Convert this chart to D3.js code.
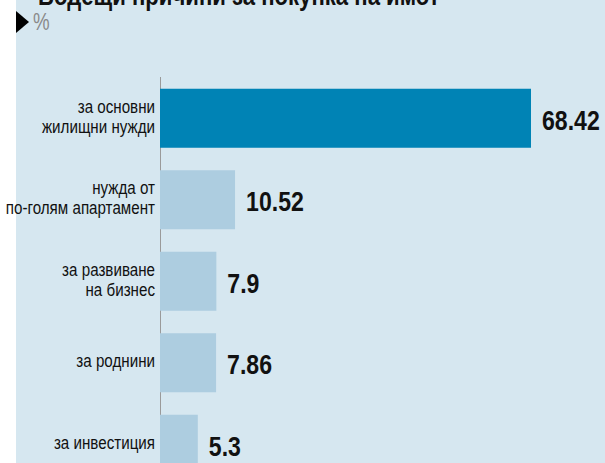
<!DOCTYPE html>
<html>
<head>
<meta charset="utf-8">
<script src="https://cdn.jsdelivr.net/npm/d3@7"></script>
<style>
  body { margin: 0; background: #fff; }
  svg { display: block; }
</style>
</head>
<body>
<script>
// data
const categories = [
  "за основни жилищни нужди",
  "нужда от по-голям апартамент",
  "за развиване на бизнес",
  "за роднини",
  "за инвестиция"
];
const labelLines = [
  ["за основни", "жилищни нужди"],
  ["нужда от", "по-голям апартамент"],
  ["за развиване", "на бизнес"],
  ["за роднини"],
  ["за инвестиция"]
];
const values = [68.42, 10.52, 7.9, 7.86, 5.3];

const width = 605, height = 463;
const font = "Liberation Sans, Arial, sans-serif";
const narrow = 0.82; // squeeze to look like a condensed face

const svg = d3.select("body").append("svg")
  .attr("width", width)
  .attr("height", height);

// panel
svg.append("rect")
  .attr("x", 16).attr("y", 0)
  .attr("width", width - 16).attr("height", height)
  .attr("fill", "#d6e7f0");

// title (cut off at top, as in the source)
svg.append("g")
  .attr("transform", `translate(38,5) scale(${narrow},1)`)
  .append("text")
  .attr("font-family", font)
  .attr("font-weight", "bold")
  .attr("font-size", 27)
  .attr("fill", "#111")
  .text("Водещи причини за покупка на имот");

// unit marker
svg.append("path")
  .attr("d", "M16,11 L29,22 L16,33 Z")
  .attr("fill", "#000");
svg.append("g")
  .attr("transform", `translate(33,30) scale(0.78,1)`)
  .append("text")
  .attr("font-family", font)
  .attr("font-size", 24)
  .attr("fill", "#8a8a8a")
  .text("%");

// scales - the big bar is cut short (clamped)
const x = d3.scaleLinear()
  .domain([0, 52])
  .range([160, 531])
  .clamp(true);

const y = d3.scaleBand()
  .domain(categories)
  .range([77.5, 485])
  .paddingInner(0.276)
  .paddingOuter(0.138);

// axis line
svg.append("line")
  .attr("x1", 160.5).attr("x2", 160.5)
  .attr("y1", 77).attr("y2", height)
  .attr("stroke", "#9a9a9a")
  .attr("stroke-width", 1);

const rows = svg.selectAll(".row")
  .data(categories.map((c, i) => ({c, v: values[i], lines: labelLines[i], i})))
  .enter().append("g")
  .attr("class", "row");

rows.append("rect")
  .attr("x", x(0))
  .attr("y", d => y(d.c))
  .attr("width", d => x(d.v) - x(0))
  .attr("height", y.bandwidth())
  .attr("fill", d => d.i === 0 ? "#0083b5" : "#adcde0");

rows.append("g")
  .attr("transform", d => `translate(${x(d.v) + 11},${y(d.c) + y.bandwidth() / 2 + 11.5}) scale(0.84,1)`)
  .append("text")
  .attr("font-family", font)
  .attr("font-weight", "bold")
  .attr("font-size", 27.5)
  .attr("fill", "#111")
  .text(d => String(d.v));

const lbl = rows.append("g")
  .attr("transform", d => `translate(155,${y(d.c) + y.bandwidth() / 2}) scale(${narrow},1)`)
  .append("text")
  .attr("text-anchor", "end")
  .attr("font-family", font)
  .attr("font-size", 18.5)
  .attr("fill", "#111");

lbl.selectAll("tspan")
  .data(d => d.lines.map((t, k) => ({t, k, n: d.lines.length})))
  .enter().append("tspan")
  .attr("x", 0)
  .attr("y", d => d.n === 1 ? 4.5 : -5.5 + d.k * 20)
  .text(d => d.t);
</script>
</body>
</html>
